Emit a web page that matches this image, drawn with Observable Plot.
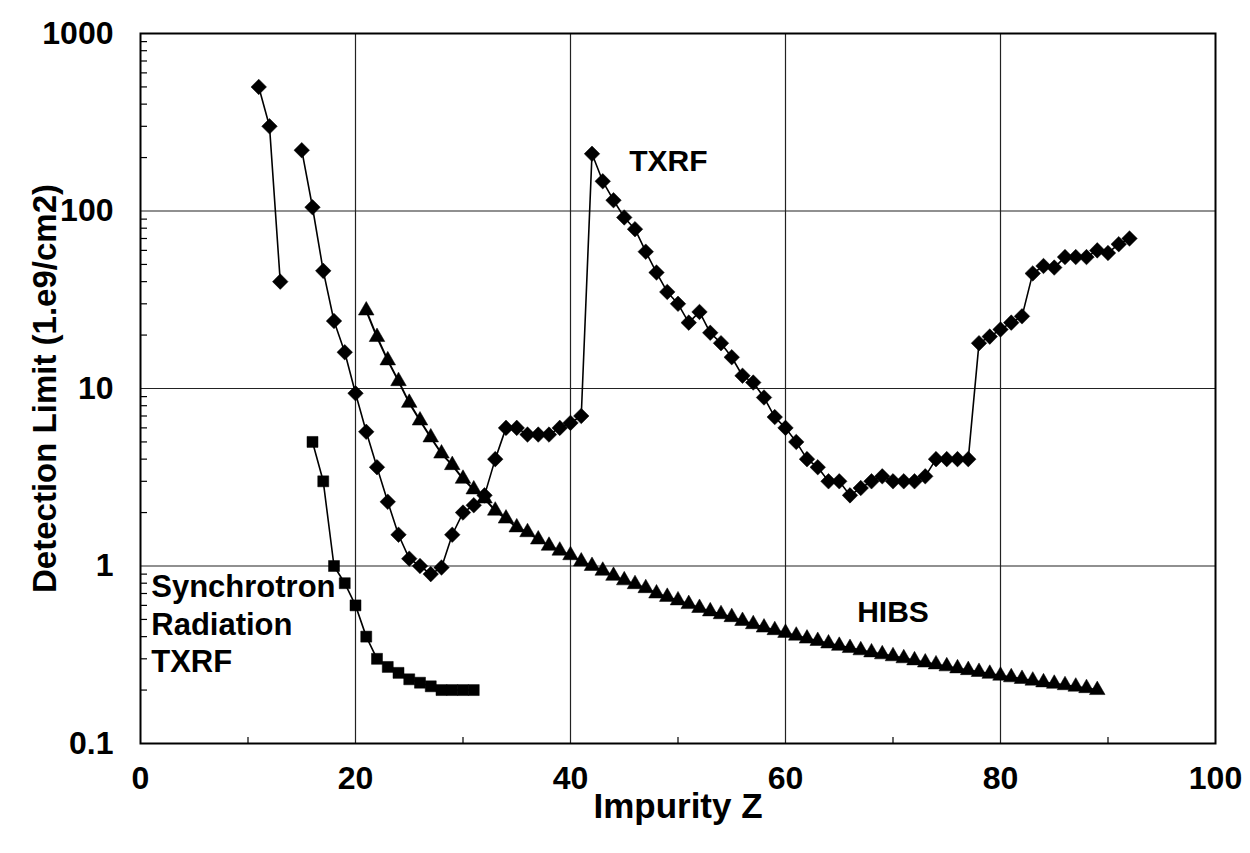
<!DOCTYPE html>
<html>
<head>
<meta charset="utf-8">
<script src="https://cdn.jsdelivr.net/npm/d3@7"></script>
<script src="https://cdn.jsdelivr.net/npm/@observablehq/plot@0.6"></script>
<style>
  html, body { margin: 0; padding: 0; background: #ffffff; }
  #chart svg { display: block; }
</style>
</head>
<body>
<div id="chart"></div>
<script>
// ---- Data ----
// TXRF (diamonds); Z = 14 (Si) is missing, so the line has a gap there
const txrfZ = [11, 12, 13,
  15, 16, 17, 18, 19, 20, 21, 22, 23, 24, 25, 26, 27, 28, 29, 30, 31, 32, 33, 34, 35, 36, 37, 38, 39, 40,
  41, 42, 43, 44, 45, 46, 47, 48, 49, 50, 51, 52, 53, 54, 55, 56, 57, 58, 59, 60,
  61, 62, 63, 64, 65, 66, 67, 68, 69, 70, 71, 72, 73, 74, 75, 76, 77, 78, 79, 80,
  81, 82, 83, 84, 85, 86, 87, 88, 89, 90, 91, 92];
const txrfValues = [500, 300, 40,
  220, 105, 46, 24, 16, 9.4, 5.7, 3.6, 2.3, 1.5, 1.1, 1.0, 0.9, 0.98, 1.5, 2.0, 2.2, 2.5, 4.0, 6.0, 6.0, 5.5, 5.5, 5.5, 6.0, 6.4,
  7.0, 210, 147, 115, 92, 79, 59, 45, 35, 30, 23.5, 27, 20.6, 18, 15, 11.8, 10.8, 8.9, 6.9, 6.0,
  5.0, 4.0, 3.6, 3.0, 3.0, 2.5, 2.75, 3.0, 3.2, 3.0, 3.0, 3.0, 3.2, 4.0, 4.0, 4.0, 4.0, 18, 19.6, 21.5,
  23.5, 25.5, 44.5, 49, 48, 55, 55, 55, 60, 58, 65, 70];

// Synchrotron Radiation TXRF (squares)
const srZ = [16, 17, 18, 19, 20, 21, 22, 23, 24, 25, 26, 27, 28, 29, 30, 31];
const srValues = [5, 3, 1.0, 0.8, 0.6, 0.4, 0.3, 0.27, 0.25, 0.23, 0.22, 0.21, 0.2, 0.2, 0.2, 0.2];

// HIBS (triangles)
const hibsZ = [21, 22, 23, 24, 25, 26, 27, 28, 29, 30, 31, 32, 33, 34, 35, 36, 37, 38, 39, 40,
  41, 42, 43, 44, 45, 46, 47, 48, 49, 50, 51, 52, 53, 54, 55, 56, 57, 58, 59, 60,
  61, 62, 63, 64, 65, 66, 67, 68, 69, 70, 71, 72, 73, 74, 75, 76, 77, 78, 79, 80,
  81, 82, 83, 84, 85, 86, 87, 88, 89];
const hibsValues = [27.5, 19.5, 14.4, 11.0, 8.3, 6.6, 5.3, 4.3, 3.7, 3.1, 2.7, 2.4, 2.05, 1.85, 1.65, 1.55, 1.41, 1.3, 1.22, 1.15,
  1.06, 1.0, 0.94, 0.88, 0.83, 0.79, 0.75, 0.70, 0.67, 0.64, 0.61, 0.58, 0.555, 0.535, 0.515, 0.49, 0.47, 0.45, 0.435, 0.42,
  0.405, 0.39, 0.378, 0.366, 0.355, 0.345, 0.335, 0.326, 0.318, 0.31, 0.302, 0.294, 0.286, 0.279, 0.272, 0.265, 0.259, 0.253, 0.247, 0.241,
  0.236, 0.231, 0.226, 0.221, 0.217, 0.213, 0.209, 0.205, 0.2];

// Axis ticks
const xTickValues = [0, 20, 40, 60, 80, 100];
const xMinorTicks = [10, 30, 50, 70, 90];
const xGridValues = [20, 40, 60, 80];
const yTickValues = [0.1, 1, 10, 100, 1000];
const yTickLabels = ["0.1", "1", "10", "100", "1000"];
const yGridValues = [1, 10, 100];
const yMinorTicks = [0.2, 0.3, 0.4, 0.5, 0.6, 0.7, 0.8, 0.9,
  2, 3, 4, 5, 6, 7, 8, 9, 20, 30, 40, 50, 60, 70, 80, 90,
  200, 300, 400, 500, 600, 700, 800, 900];

// Text annotations (data coordinates)
const centerLabelTexts = ["TXRF", "HIBS"];
const centerLabelZ = [49.1, 70.0];
const centerLabelValues = [190, 0.547];
const leftLabelTexts = ["Synchrotron", "Radiation", "TXRF"];
const leftLabelZ = [1.0, 1.0, 1.0];
const leftLabelValues = [0.757, 0.462, 0.286];

const xTitle = "Impurity Z";
const yTitle = "Detection Limit (1.e9/cm2)";

// ---- Build tables ----
const txrf = txrfZ.map((z, i) => ({z, v: txrfValues[i], seg: z < 14 ? "a" : "b"}));
const sr = srZ.map((z, i) => ({z, v: srValues[i]}));
const hibs = hibsZ.map((z, i) => ({z, v: hibsValues[i]}));
const centerLabels = centerLabelTexts.map((t, i) => ({t, z: centerLabelZ[i], v: centerLabelValues[i]}));
const leftLabels = leftLabelTexts.map((t, i) => ({t, z: leftLabelZ[i], v: leftLabelValues[i]}));

const FONT = "'Liberation Sans', Arial, Helvetica, sans-serif";
const INK = "#000000";

const plot = Plot.plot({
  width: 1250,
  height: 853,
  marginLeft: 140,
  marginRight: 35,
  marginTop: 33,
  marginBottom: 110,
  style: {fontFamily: FONT, fontSize: "30px", fontWeight: "bold", background: "#ffffff", color: INK},
  x: {domain: [0, 100]},
  y: {type: "log", domain: [0.1, 1000]},
  marks: [
    Plot.gridX(xGridValues, {stroke: "#222", strokeOpacity: 1, strokeWidth: 1.2}),
    Plot.gridY(yGridValues, {stroke: "#222", strokeOpacity: 1, strokeWidth: 1.2}),
    Plot.axisY(yMinorTicks, {anchor: "left", tickSize: -7, tickFormat: () => "", label: null, strokeWidth: 1.2}),
    Plot.axisX(xMinorTicks, {anchor: "bottom", tickSize: -6, tickFormat: () => "", label: null, strokeWidth: 1.2}),
    Plot.axisY(yTickValues, {anchor: "left", tickSize: 0, tickPadding: 27, fontSize: 32, fontWeight: "bold",
      tickFormat: d => yTickLabels[yTickValues.indexOf(d)], label: null}),
    Plot.axisX(xTickValues, {anchor: "bottom", tickSize: 0, tickPadding: 23, fontSize: 32, fontWeight: "bold",
      tickFormat: d => String(d), label: null}),
    Plot.text([xTitle], {frameAnchor: "bottom", dy: 63, textAnchor: "middle", lineAnchor: "middle", fontSize: 35, fontWeight: "bold", fill: INK}),
    Plot.text([yTitle], {frameAnchor: "left", dx: -95, rotate: -90, textAnchor: "middle", lineAnchor: "middle", fontSize: 33, fontWeight: "bold", fill: INK}),
    // series
    Plot.line(hibs, {x: "z", y: "v", stroke: INK, strokeWidth: 2}),
    Plot.dot(hibs, {x: "z", y: "v", symbol: "triangle", r: 5.8, fill: INK, stroke: INK, strokeWidth: 0.5}),
    Plot.line(sr, {x: "z", y: "v", stroke: INK, strokeWidth: 1.6}),
    Plot.dot(sr, {x: "z", y: "v", symbol: "square", r: 6.2, fill: INK, stroke: INK, strokeWidth: 0.5}),
    Plot.line(txrf, {x: "z", y: "v", z: "seg", stroke: INK, strokeWidth: 1.6}),
    Plot.dot(txrf, {x: "z", y: "v", symbol: "diamond2", r: 7, fill: INK, stroke: INK, strokeWidth: 0.5}),
    // annotations
    Plot.text(centerLabels, {x: "z", y: "v", text: "t", textAnchor: "middle", lineAnchor: "middle",
      fontSize: 30, fontWeight: "bold", fill: INK}),
    Plot.text(leftLabels, {x: "z", y: "v", text: "t", textAnchor: "start", lineAnchor: "middle",
      fontSize: 31, fontWeight: "bold", fill: INK}),
    Plot.frame({stroke: INK, strokeWidth: 2})
  ]
});

document.getElementById("chart").appendChild(plot);
</script>
</body>
</html>
